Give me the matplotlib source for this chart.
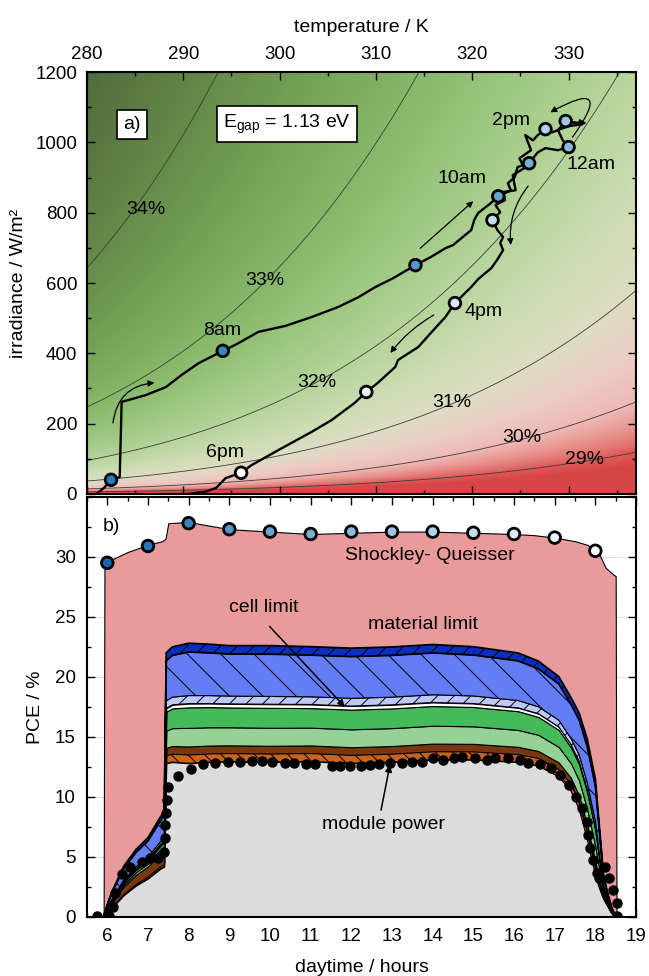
import numpy as np
import matplotlib
matplotlib.use('Agg')
import matplotlib.pyplot as plt
from matplotlib.colors import LinearSegmentedColormap
from matplotlib.ticker import MultipleLocator

plt.rcParams['font.family'] = ['Liberation Sans', 'DejaVu Sans']
plt.rcParams['mathtext.fontset'] = 'custom'
plt.rcParams['mathtext.rm'] = 'Liberation Sans'
plt.rcParams['font.size'] = 14
plt.rcParams['xtick.labelsize'] = 13.5
plt.rcParams['ytick.labelsize'] = 13.5
plt.rcParams['hatch.linewidth'] = 0.7

# ---------------- a) efficiency map and daily path ----------------
# SQ efficiency (Egap = 1.13 eV) vs temperature and irradiance
eta_at_1W = 27.23      # % at 280 K, 1 W/m2
eta_dT = 0.0745        # % lost per K
eta_dlnG = 1.047       # % per e-fold of irradiance at 280 K (scales with T)
eff_levels = [29, 30, 31, 32, 33, 34]
eff_labels = ['29%', '30%', '31%', '32%', '33%', '34%']
eff_label_T = [331.7, 325.1, 317.9, 303.9, 298.5, 286.1]
eff_label_G = [97, 159, 259, 316, 608, 810]

path_T = [281.0, 281.8, 282.5, 283.4, 283.6, 284.3, 286.1, 288.2, 289.8, 291.6,
          294.1, 295.4, 297.8, 300.6, 303.3, 306.1, 308.2, 309.9, 311.8, 314.1,
          315.7, 317.2, 318.0, 319.9, 320.2, 320.6, 321.9, 322.7, 324.0, 323.7,
          324.4, 324.7, 325.9, 326.8, 327.6, 328.9, 330.0, 329.4, 328.9, 329.7,
          331.4, 329.9, 328.3, 327.6, 326.8, 326.3, 325.5, 326.1, 324.9, 325.4,
          324.2, 324.5, 323.2, 323.4, 322.4, 322.9, 322.1, 322.6, 323.2, 322.9,
          323.2, 322.7, 322.0, 320.6, 319.9, 318.2, 317.2, 315.7, 314.4, 312.3,
          312.0, 310.2, 309.0, 307.8, 305.4, 303.3, 299.9, 297.1, 296.0, 294.4,
          293.4, 292.3, 290.6]
path_G = [0, 18, 40, 48, 262, 267, 281, 304, 338, 372,
          407, 424, 461, 478, 503, 532, 560, 588, 614, 651,
          674, 699, 708, 751, 779, 799, 827, 847, 864, 884,
          901, 930, 941, 972, 984, 978, 987, 1006, 1035, 1061,
          1052, 1046, 1029, 1038, 1021, 1006, 1021, 978, 955, 927,
          907, 864, 859, 836, 822, 802, 779, 751, 731, 714,
          694, 671, 643, 611, 589, 543, 503, 458, 418, 381,
          361, 316, 290, 259, 210, 176, 125, 82, 60, 45,
          17, 6, 0]

# hourly markers 7..18 h
hour_T = [282.5, 294.1, 314.1, 322.7, 325.9, 330.0, 329.7, 327.6, 322.1, 318.2, 309.0, 296.0]
hour_G = [40, 407, 651, 847, 941, 987, 1061, 1038, 779, 543, 290, 60]
time_labels = ['8am', '10am', '2pm', '12am', '4pm', '6pm']
time_label_T = [294.0, 318.9, 324.0, 332.3, 321.2, 294.3]
time_label_G = [466, 898, 1063, 938, 520, 119]

# ---------------- b) PCE over the day ----------------
sq_hours = [6, 7, 8, 9, 10, 11, 12, 13, 14, 15, 16, 17, 18]
sq_marks = [29.5, 30.9, 32.8, 32.3, 32.1, 31.9, 32.1, 32.1, 32.1, 32.0, 31.9, 31.6, 30.5]
sq_t = [5.91, 5.93, 6.0, 6.5, 7.0, 7.35, 7.43, 7.5, 8.0, 8.5, 9.0, 10.0, 11.0, 12.0,
        13.0, 14.0, 15.0, 16.0, 16.5, 17.0, 17.5, 17.8, 18.0, 18.1, 18.25, 18.45, 18.5, 18.52]
sq_pce = [0, 29.2, 29.6, 30.4, 31.0, 31.3, 31.5, 32.8, 32.9, 32.6, 32.3, 32.1, 31.9, 32.0,
          32.1, 32.1, 32.0, 31.9, 31.8, 31.6, 31.3, 31.0, 30.6, 30.2, 29.1, 28.5, 28.4, 0]

t_stack = [5.90, 6.10, 6.40, 6.70, 7.00, 7.30, 7.40, 7.45, 7.60, 8.0, 8.5, 9.0, 10.0, 11.0, 12.0,
           13.0, 14.0, 15.0, 16.1, 16.6, 17.1, 17.4, 17.6, 17.8, 18.0, 18.1, 18.2, 18.3, 18.4, 18.5]
grey_base = [0, 0.7, 1.8, 2.6, 3.2, 4.0, 4.2, 12.8, 12.9, 12.8, 12.9, 12.95, 12.9, 12.95, 12.8,
             12.9, 13.1, 13.1, 12.9, 12.6, 11.7, 10.5, 9.0, 6.5, 3.5, 2.4, 1.5, 0.9, 0.3, 0]
orange = [0, .07, .12, .15, .17, .22, .23, .67, .70, .73, .72, .70, .71, .70, .70,
          .70, .70, .69, .66, .64, .61, .57, .58, .61, .58, .37, .15, .08, .04, 0]
brown = [0, .33, .60, .75, .85, 1.08, 1.15, .62, .64, .67, .66, .65, .65, .64, .64,
         .64, .64, .63, .61, .58, .56, .52, .54, .56, .54, .34, .13, .07, .03, 0]
light_green = [0, .09, .17, .21, .24, .30, .32, 1.43, 1.49, 1.55, 1.52, 1.50, 1.50, 1.48, 1.49,
               1.49, 1.49, 1.46, 1.41, 1.35, 1.29, 1.21, 1.24, 1.29, 1.24, .79, .31, .17, .08, 0]
green = [0, .09, .17, .21, .24, .30, .32, 1.57, 1.64, 1.71, 1.68, 1.65, 1.66, 1.63, 1.64,
         1.64, 1.64, 1.61, 1.56, 1.49, 1.42, 1.33, 1.37, 1.42, 1.37, .87, .34, .19, .09, 0]
white = [0, .04, .07, .09, .10, .13, .14, .29, .30, .31, .30, .30, .30, .30, .30,
         .30, .30, .29, .28, .27, .26, .24, .25, .26, .25, .16, .06, .03, .02, 0]
lavender = [0, .07, .12, .15, .17, .22, .23, .62, .64, .67, .66, .65, .65, .64, .64,
            .64, .64, .63, .61, .58, .56, .52, .54, .56, .54, .34, .13, .07, .03, 0]
mid_blue = [0, .52, .96, 1.2, 1.36, 1.72, 1.84, 3.34, 3.48, 3.63, 3.56, 3.50, 3.52, 3.47, 3.48,
            3.48, 3.48, 3.41, 3.30, 3.16, 3.01, 2.83, 2.90, 3.01, 2.90, 1.85, .73, .40, .18, 0]
dark_blue = [0, .09, .19, .24, .27, .33, .37, .67, .70, .73, .72, .70, .71, .70, .70,
             .70, .70, .69, .66, .64, .61, .57, .58, .61, .58, .37, .15, .08, .03, 0]

module_t = [5.75, 6.05, 6.15, 6.2, 6.35, 6.55, 6.85, 7.05, 7.25, 7.4,
            7.41, 7.43, 7.44, 7.46, 7.49, 7.74, 8.05, 8.35, 8.65, 8.97,
            9.26, 9.55, 9.8, 10.05, 10.37, 10.6, 10.89, 11.11, 11.53, 11.73,
            11.97, 12.23, 12.47, 12.68, 12.96, 13.25, 13.5, 13.75, 14.0, 14.25,
            14.52, 14.72, 15.03, 15.33, 15.54, 15.84, 16.14, 16.35, 16.65, 16.9,
            17.12, 17.36, 17.52, 17.68, 17.79, 17.83, 17.87, 17.93, 18.03, 18.1,
            18.23, 18.33, 18.43, 18.53, 18.53]
module_pce = [0.05, 0.05, 0.8, 2.0, 3.6, 4.2, 4.6, 4.9, 4.9, 5.4,
              6.6, 7.7, 8.7, 9.75, 10.8, 11.7, 12.3, 12.75, 12.8, 12.9,
              12.9, 12.95, 13.0, 12.9, 12.8, 12.8, 12.75, 12.75, 12.55, 12.6,
              12.6, 12.6, 12.65, 12.75, 12.85, 12.85, 12.9, 12.9, 13.2, 13.1,
              13.2, 13.3, 13.2, 13.1, 13.2, 13.25, 13.1, 12.8, 12.7, 12.4,
              11.8, 11.0, 10.0, 9.1, 7.9, 6.8, 5.75, 4.75, 3.7, 3.25,
              4.2, 3.25, 2.25, 1.2, 0.1]

# marker colours, 6h .. 18h
hour_colors = ['#1565a8', '#2a78bb', '#3b84c2', '#5595c9', '#69a3d0', '#78add6', '#8bbadc',
               '#9cc5e2', '#b0d3ea', '#c4def0', '#d8e9f5', '#ebf3f9', '#ffffff']

fig = plt.figure(figsize=(6.49, 9.76), dpi=100)
ax1 = fig.add_axes([0.134, 0.494, 0.846, 0.432])
ax2 = fig.add_axes([0.134, 0.0605, 0.846, 0.4305])

# ---- panel a
eff_nodes = [28.5, 29.0, 29.5, 30.0, 30.5, 31.0, 31.5, 32.0, 32.5, 33.0, 33.5, 34.0, 34.7]
eff_cols = ['#d74646', '#de5a58', '#e68c87', '#eeb9b4', '#ecccc3', '#dedcc3', '#cddcb4',
            '#b6d49b', '#9ec882', '#87b769', '#76a358', '#668c4a', '#52693c']
pos = [(v - eff_nodes[0]) / (eff_nodes[-1] - eff_nodes[0]) for v in eff_nodes]
cmap = LinearSegmentedColormap.from_list('eff', list(zip(pos, eff_cols)))

TT, GG = np.meshgrid(np.linspace(280, 337, 300), np.linspace(0.5, 1200, 500))
eff = eta_at_1W - eta_dT * (TT - 280) + eta_dlnG * TT / 280 * np.log(GG)
ax1.imshow(eff, origin='lower', extent=[280, 337, 0, 1200], aspect='auto', cmap=cmap,
           vmin=eff_nodes[0], vmax=eff_nodes[-1], interpolation='bilinear', zorder=0)
ax1.contour(TT, GG, eff, levels=eff_levels, colors='#3c3c3c', linewidths=0.6, zorder=1)
for lab, x, y in zip(eff_labels, eff_label_T, eff_label_G):
    ax1.text(x, y, lab, ha='center', va='center', zorder=2)

ax1.plot(path_T, path_G, color='k', lw=1.7, zorder=3, solid_joinstyle='round')
ax1.scatter(hour_T, hour_G, s=70, c=hour_colors[1:], edgecolors='k', linewidths=2, zorder=4)
for lab, x, y in zip(time_labels, time_label_T, time_label_G):
    ax1.text(x, y, lab, ha='center', va='center', zorder=5)

arw = dict(arrowstyle='-|>', color='k', lw=0.9, mutation_scale=9, shrinkA=0, shrinkB=0)
ax1.annotate('', xy=(287.0, 316), xytext=(282.7, 202),
             arrowprops=dict(arw, connectionstyle='arc3,rad=-0.4'))
ax1.annotate('', xy=(320.1, 833), xytext=(314.6, 699), arrowprops=arw)
ax1.annotate('', xy=(324.0, 708), xytext=(325.8, 876),
             arrowprops=dict(arw, connectionstyle='arc3,rad=0.2'))
ax1.annotate('', xy=(311.5, 401), xytext=(316.0, 509),
             arrowprops=dict(arw, connectionstyle='arc3,rad=0.1'))
ax1.annotate('', xy=(328.1, 1086), xytext=(330.4, 1015),
             arrowprops=dict(arw, connectionstyle='arc3,rad=2.2'))
ax1.annotate('', xy=(331.9, 1055), xytext=(330.0, 1058),
             arrowprops=dict(arw, lw=1.5))

box = dict(boxstyle='square,pad=0.32', fc='white', ec='k', lw=1.2)
ax1.text(284.7, 1052, 'a)', ha='center', va='center', bbox=box, zorder=6)
ax1.text(300.8, 1052, r'E$_{\rm gap}$ = 1.13 eV', ha='center', va='center', bbox=box, zorder=6)

ax1.set_xlim(280, 337)
ax1.set_ylim(0, 1200)
ax1.xaxis.set_major_locator(MultipleLocator(10))
ax1.xaxis.set_minor_locator(MultipleLocator(5))
ax1.yaxis.set_major_locator(MultipleLocator(200))
ax1.yaxis.set_minor_locator(MultipleLocator(100))
ax1.tick_params(which='both', direction='in', top=True, bottom=True, left=True, right=True,
                labeltop=True, labelbottom=False, width=1)
ax1.tick_params(which='major', length=6, pad=7)
ax1.tick_params(which='minor', length=3)
ax1.xaxis.set_label_position('top')
ax1.set_xlabel('temperature / K', labelpad=10)
ax1.set_ylabel('irradiance / W/m²', labelpad=6)

# ---- panel b
ax2.set_axisbelow(True)
ax2.yaxis.grid(True, linestyle=':', color='#b5b5b5', lw=0.8)
ax2.fill_between(sq_t, sq_pce, color='#e99b9b', edgecolor='k', lw=0.8, zorder=1)

stack_cols = ['#dcdcdc', '#c8641e', '#78370f', '#96d296', '#46b95a', '#ffffff',
              '#bec8fa', '#647df5', '#0a2fc0']
stack_hatch = [None, '\\\\', None, None, None, None, '//', '\\', '//']
polys = ax2.stackplot(t_stack, grey_base, orange, brown, light_green, green, white,
                      lavender, mid_blue, dark_blue, colors=stack_cols,
                      edgecolor='k', lw=0.8, zorder=2)
for p, h in zip(polys, stack_hatch):
    if h:
        p.set_hatch(h)
polys[-1].set_linewidth(1.3)

ax2.plot(module_t, module_pce, 'o', color='k', ms=6.5, zorder=4)
ax2.scatter(sq_hours, sq_marks, s=70, c=hour_colors, edgecolors='k', linewidths=2, zorder=5)

ax2.text(6.09, 32.5, 'b)', ha='center', va='center')
ax2.text(13.93, 30.08, 'Shockley- Queisser', ha='center', va='center')
ax2.text(13.76, 24.4, 'material limit', ha='center', va='center')
ax2.text(9.85, 25.75, 'cell limit', ha='center', va='center')
ax2.text(12.78, 7.67, 'module power', ha='center', va='center')
arw2 = dict(arrowstyle='-|>', color='k', lw=1.1, mutation_scale=10, shrinkA=0, shrinkB=0)
ax2.annotate('', xy=(11.84, 17.5), xytext=(9.99, 24.2), arrowprops=arw2, zorder=6)
ax2.annotate('', xy=(12.95, 12.67), xytext=(12.73, 8.9), arrowprops=arw2, zorder=6)

ax2.set_xlim(5.5, 19)
ax2.set_ylim(0, 35)
ax2.xaxis.set_major_locator(MultipleLocator(1))
ax2.xaxis.set_minor_locator(MultipleLocator(0.5))
ax2.yaxis.set_major_locator(MultipleLocator(5))
ax2.yaxis.set_minor_locator(MultipleLocator(2.5))
ax2.set_yticks([0, 5, 10, 15, 20, 25, 30])
ax2.tick_params(which='both', direction='in', top=True, bottom=True, left=True, right=True, width=1)
ax2.tick_params(which='major', length=6, pad=8)
ax2.tick_params(which='minor', length=3)
ax2.set_xlabel('daytime / hours', labelpad=10)
ax2.set_ylabel('PCE / %', labelpad=8)

for ax in (ax1, ax2):
    for s in ax.spines.values():
        s.set_linewidth(1.5)
        s.set_zorder(10)

fig.savefig('out.png', dpi=100)
